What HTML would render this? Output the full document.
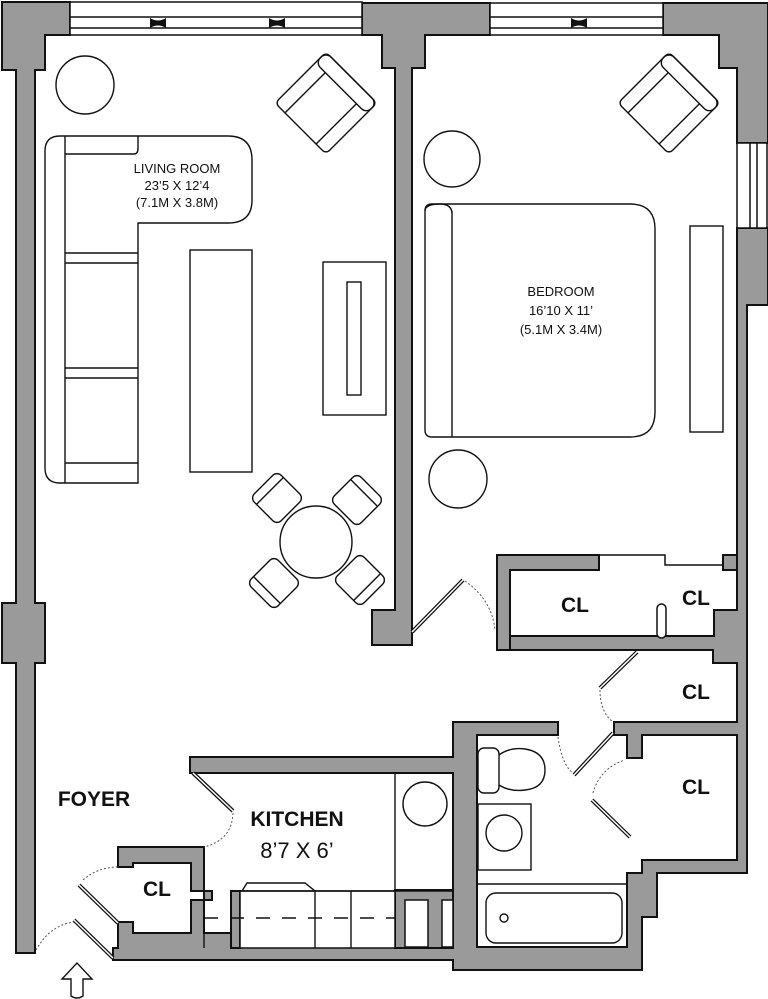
<!DOCTYPE html>
<html><head><meta charset="utf-8"><style>
html,body{margin:0;padding:0;background:#fff;}
svg{display:block;}
text{font-family:"Liberation Sans",Arial,sans-serif;fill:#111;}
</style></head><body>
<svg width="768" height="999" viewBox="0 0 768 999" xmlns="http://www.w3.org/2000/svg">
<g fill="#9a9a9a" stroke="#111" stroke-width="2" stroke-linejoin="miter">
<!-- top-left corner + left wall -->
<path d="M2,2 H70 V35 H45 V70 H35 V603 H45 V663 H35 V953 H16 V663 H2 V603 H16 V70 H2 Z"/>
<!-- middle top block + partition -->
<path d="M362,3 H490 V35 H425 V68 H412 V645 H372 V610 H395 V68 H382 V35 H362 Z"/>
<!-- right top corner -->
<path d="M663,3 H768 V143 H737 V68 H719 V35 H663 Z"/>
<!-- right wall + closets + bath -->
<path d="M737,228 H768 V305 H747 V873 H657 V917 H642 V970 H453 V960 H113 V948 H118 V922 H133 V933 H191 V900 H212 V891 H204 V933 H453 V773 H190 V757 H453 V722 H558 V735 H477 V947 H627 V873 H642 V860 H737 V735 H642 V758 H627 V735 H614 V722 H737 V663 H713 V650 H510 V636 H714 V610 H737 Z"/>
<path d="M497,555 H599 V570 H510 V650 H497 Z"/>
<path d="M723,555 H737 V570 H723 Z"/>
<path d="M118,847 H204 V891 H191 V863 H133 V867 H118 Z"/>
<path d="M395,890 H453 V948 H395 Z"/>
<path d="M231,891 H240 V948 H231 Z"/>
</g>
<g fill="#fff" stroke="#111" stroke-width="1.5">
<!-- windows -->
<rect x="70" y="2" width="292" height="33"/>
<line x1="70" y1="17" x2="362" y2="17"/><line x1="70" y1="28" x2="362" y2="28"/>
<rect x="490" y="3" width="173" height="32"/>
<line x1="490" y1="17" x2="663" y2="17"/><line x1="490" y1="28" x2="663" y2="28"/>
<rect x="737" y="143" width="30" height="85"/>
<line x1="750" y1="143" x2="750" y2="228"/><line x1="757" y1="143" x2="757" y2="228"/>
<!-- closet top lines -->
<path d="M599,555 H665 V565 H723" fill="none"/>
<rect x="657" y="604" width="9" height="34" rx="4.5"/>
<rect x="405" y="900" width="23" height="47"/>
<rect x="442" y="900" width="11" height="47"/>
<rect x="240" y="891" width="155" height="57"/>
</g>
<g fill="#111">
<path d="M150,18 Q158,23 166,18 V28 Q158,23 150,28 Z"/>
<path d="M269,18 Q277,23 285,18 V28 Q277,23 269,28 Z"/>
<path d="M571,18 Q579,23 587,18 V28 Q579,23 571,28 Z"/>
</g>
<g fill="none" stroke="#111" stroke-width="1.4">
<!-- living room -->
<circle cx="85" cy="85" r="29"/>
<g transform="translate(326,103) rotate(45)"><rect x="-36" y="-36" width="72" height="72" rx="5"/><rect x="-36" y="-36" width="72" height="15" rx="7"/><line x1="-22" y1="-21" x2="-22" y2="36"/><line x1="22" y1="-21" x2="22" y2="36"/></g>
<path d="M60,136 H228 Q252,136 252,160 V200 Q252,223 228,223 H138 V483 H60 Q45,483 45,468 V151 Q45,136 60,136 Z"/>
<path d="M65,136 V483"/><path d="M65,154 H134 Q138,154 138,148 V136"/>
<path d="M65,253 H138 M65,263 H138 M65,368 H138 M65,378 H138 M65,463 H138"/>
<rect x="190" y="250" width="62" height="222"/>
<rect x="323" y="262" width="63" height="153"/><rect x="347" y="282" width="14" height="113"/>
<circle cx="316" cy="542" r="36"/>
<g transform="translate(277,498) rotate(-45)"><rect x="-19" y="-19" width="38" height="38" rx="6"/><line x1="-19" y1="-10" x2="19" y2="-10"/></g>
<g transform="translate(357,500) rotate(45)"><rect x="-19" y="-19" width="38" height="38" rx="6"/><line x1="-19" y1="-10" x2="19" y2="-10"/></g>
<g transform="translate(274,583) rotate(-135)"><rect x="-19" y="-19" width="38" height="38" rx="6"/><line x1="-19" y1="-10" x2="19" y2="-10"/></g>
<g transform="translate(360,580) rotate(135)"><rect x="-19" y="-19" width="38" height="38" rx="6"/><line x1="-19" y1="-10" x2="19" y2="-10"/></g>
<!-- bedroom -->
<circle cx="452" cy="159" r="28"/>
<g transform="translate(669,103) rotate(45)"><rect x="-36" y="-36" width="72" height="72" rx="5"/><rect x="-36" y="-36" width="72" height="15" rx="7"/><line x1="-22" y1="-21" x2="-22" y2="36"/><line x1="22" y1="-21" x2="22" y2="36"/></g>
<path d="M432,204 H630 Q655,204 655,229 V412 Q655,437 630,437 H432 Q425,437 425,430 V211 Q425,204 432,204 Z"/>
<path d="M452,211 V437 M425,211 Q425,204 440,204 Q452,204 452,214"/>
<circle cx="458" cy="479" r="29"/>
<rect x="690" y="226" width="33" height="206"/>
<!-- bath -->
<rect x="478" y="748" width="21" height="45" rx="6"/>
<path d="M499,755 Q510,747 525,749 Q545,752 545,770 Q545,788 525,790 Q510,792 499,785"/>
<rect x="478" y="804" width="53" height="66"/><circle cx="504" cy="833" r="18"/>
<line x1="477" y1="884" x2="627" y2="884"/>
<rect x="486" y="893" width="136" height="50" rx="10"/><circle cx="504" cy="918" r="4"/>
<!-- kitchen -->
<line x1="395" y1="773" x2="395" y2="891"/>
<circle cx="425" cy="804" r="22"/>
<path d="M240,891 H453"/>
<path d="M242,891 L247,883 H305 L315,891 M315,891 V948 M351,891 V948"/>
<path d="M204,891 V948 M231,891 V948"/>
</g>
<g stroke="#111" stroke-width="1.5" stroke-dasharray="14,12"><line x1="204" y1="918" x2="395" y2="918"/></g>
<!-- doors -->
<g stroke="#111" stroke-width="4"><line x1="412" y1="632" x2="463" y2="580"/><line x1="600" y1="688" x2="637" y2="652"/><line x1="574" y1="775" x2="613" y2="733"/><line x1="592" y1="800" x2="630" y2="837"/><line x1="193" y1="773" x2="233" y2="811"/><line x1="79" y1="885" x2="118" y2="923"/><line x1="74" y1="920" x2="113" y2="958"/></g>
<g stroke="#fff" stroke-width="1.5"><line x1="412" y1="632" x2="463" y2="580"/><line x1="600" y1="688" x2="637" y2="652"/><line x1="574" y1="775" x2="613" y2="733"/><line x1="592" y1="800" x2="630" y2="837"/><line x1="193" y1="773" x2="233" y2="811"/><line x1="79" y1="885" x2="118" y2="923"/><line x1="74" y1="920" x2="113" y2="958"/></g>
<g fill="none" stroke="#555" stroke-width="1" stroke-dasharray="2,2">
<path d="M465,581 Q492,600 495,630"/><path d="M600,690 Q600,712 613,722"/><path d="M558,737 Q562,765 573,773"/><path d="M593,793 Q600,768 625,760"/><path d="M233,813 Q232,840 204,847"/><path d="M83,880 Q98,867 118,867"/><path d="M36,950 Q50,925 74,922"/>
</g>
<!-- entry arrow -->
<path d="M77,963 L62,979 H71 V996 Q77,1000 83,996 V979 H92 Z" fill="#fff" stroke="#111" stroke-width="1.4"/>
<!-- labels -->
<g font-size="13" text-anchor="middle">
<text x="177" y="173">LIVING ROOM</text><text x="177" y="190">23’5 X 12’4</text><text x="177" y="207">(7.1M X 3.8M)</text>
<text x="561" y="296">BEDROOM</text><text x="561" y="315">16’10 X 11’</text><text x="561" y="334">(5.1M X 3.4M)</text>
</g>
<g font-size="21" font-weight="bold" text-anchor="middle">
<text x="575" y="612">CL</text><text x="696" y="605">CL</text><text x="696" y="699">CL</text><text x="696" y="794">CL</text><text x="157" y="896">CL</text>
<text x="94" y="806">FOYER</text>
<text x="297" y="826">KITCHEN</text>
</g>
<text x="297" y="858" font-size="22" text-anchor="middle">8’7 X 6’</text>
</svg>
</body></html>
